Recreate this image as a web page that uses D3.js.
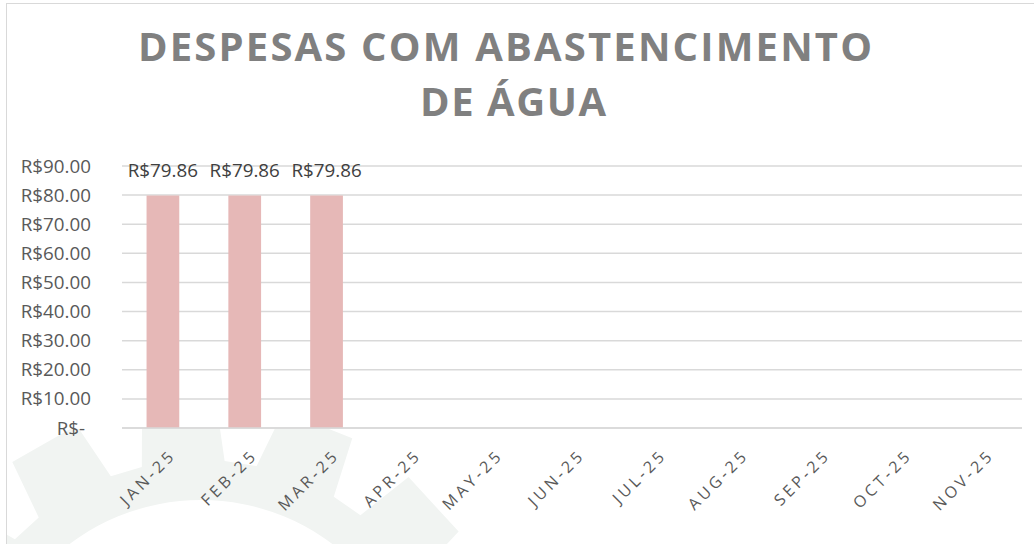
<!DOCTYPE html>
<html>
<head>
<meta charset="utf-8">
<script src="https://cdn.jsdelivr.net/npm/d3@7"></script>
<style>
  body { margin: 0; background: #fff; }
  svg { display: block; font-family: "Open Sans", sans-serif; }
</style>
</head>
<body>
<svg id="chart"></svg>
<script>
var width = 1034;
var height = 544;

// data
var months = ["JAN-25", "FEB-25", "MAR-25", "APR-25", "MAY-25", "JUN-25",
              "JUL-25", "AUG-25", "SEP-25", "OCT-25", "NOV-25"];
var expenses = [79.86, 79.86, 79.86, null, null, null, null, null, null, null, null];
var yTicks = [0, 10, 20, 30, 40, 50, 60, 70, 80, 90];
var titleLines = ["DESPESAS COM ABASTENCIMENTO", "DE ÁGUA"];

var margin = {left: 122, right: 12, top: 166, bottom: 116};

var svg = d3.select('#chart')
    .attr('width', width)
    .attr('height', height);

// faint gear watermark in the background (angles in degrees, 0 = up)
function gearPath(cx, cy, rHole, rRoot, rTip, teeth, offset) {
    var pts = [];
    var step = 360 / teeth;
    function pt(deg, r) {
        var a = (deg - 90) * Math.PI / 180;
        return [cx + r * Math.cos(a), cy + r * Math.sin(a)];
    }
    for (var i = 0; i < teeth; i++) {
        var a = offset + i * step;
        pts.push(pt(a - step * 0.36, rRoot));
        pts.push(pt(a - step * 0.26, rTip));
        pts.push(pt(a + step * 0.26, rTip));
        pts.push(pt(a + step * 0.36, rRoot));
    }
    var d = 'M' + pts.map(p => p.join(',')).join('L') + 'Z';
    d += 'M' + (cx + rHole) + ',' + cy +
         'A' + rHole + ',' + rHole + ' 0 1,0 ' + (cx - rHole) + ',' + cy +
         'A' + rHole + ',' + rHole + ' 0 1,0 ' + (cx + rHole) + ',' + cy + 'Z';
    return d;
}
svg.append('clipPath').attr('id', 'below')
    .append('rect').attr('x', 7).attr('y', 429).attr('width', width).attr('height', 200);
svg.append('path')
    .attr('d', gearPath(201, 718, 218, 258, 318, 14, -4))
    .attr('fill', '#f1f4f2')
    .attr('fill-rule', 'evenodd')
    .attr('clip-path', 'url(#below)');

// chart frame
svg.append('rect')
    .attr('x', 6.5).attr('y', 3.5)
    .attr('width', 1060).attr('height', 600)
    .attr('fill', 'none')
    .attr('stroke', '#d9d9d9');

// title
svg.append('g').selectAll('text')
    .data(titleLines)
    .enter().append('text')
    .attr('x', (d, i) => i === 0 ? 505 : 513)
    .attr('y', (d, i) => 61 + i * 55)
    .attr('text-anchor', 'middle')
    .attr('font-size', 40)
    .attr('font-weight', 'bold')
    .attr('fill', '#808080')
    .attr('textLength', (d, i) => i === 0 ? 734 : 186)
    .attr('lengthAdjust', 'spacing')
    .text(d => d);

var x = d3.scaleBand()
    .domain(months)
    .range([margin.left, width - margin.right])
    .paddingInner(0.6)
    .paddingOuter(0.3);

var y = d3.scaleLinear()
    .domain([0, 90])
    .range([height - margin.bottom, margin.top]);

// gridlines
svg.append('g').selectAll('line')
    .data(yTicks)
    .enter().append('line')
    .attr('x1', margin.left).attr('x2', width - margin.right)
    .attr('y1', d => y(d)).attr('y2', d => y(d))
    .attr('stroke', '#d9d9d9')
    .attr('stroke-width', 1.5);

// y axis labels
var fmt = d3.format(',.2f');
svg.append('g').selectAll('text')
    .data(yTicks)
    .enter().append('text')
    .attr('x', d => d === 0 ? 85 : 91)
    .attr('y', d => y(d) + 6.5)
    .attr('text-anchor', 'end')
    .attr('font-size', 18.8)
    .attr('fill', '#595959')
    .text(d => d === 0 ? 'R$-' : 'R$' + fmt(d));

// bars
var barData = months.map((m, i) => ({month: m, value: expenses[i]})).filter(d => d.value != null);
svg.append('g').selectAll('rect')
    .data(barData)
    .enter().append('rect')
    .attr('x', d => x(d.month))
    .attr('y', d => y(d.value))
    .attr('width', x.bandwidth())
    .attr('height', d => y(0) - y(d.value))
    .attr('fill', '#e6b8b7');

// redraw the baseline over the bars
svg.append('line')
    .attr('x1', margin.left).attr('x2', width - margin.right)
    .attr('y1', y(0)).attr('y2', y(0))
    .attr('stroke', '#d9d9d9')
    .attr('stroke-width', 1.5);

// data labels
svg.append('g').selectAll('text')
    .data(barData)
    .enter().append('text')
    .attr('x', d => x(d.month) + x.bandwidth() / 2)
    .attr('y', 177)
    .attr('text-anchor', 'middle')
    .attr('font-size', 18.8)
    .attr('fill', '#404040')
    .text(d => 'R$' + fmt(d.value));

// x axis labels
svg.append('g').selectAll('text')
    .data(months)
    .enter().append('text')
    .attr('transform', d => `translate(${x(d) + x.bandwidth() / 2 + 14}, 456) rotate(-45)`)
    .attr('text-anchor', 'end')
    .attr('font-size', 16)
    .attr('letter-spacing', 3.5)
    .attr('fill', '#595959')
    .text(d => d);
</script>
</body>
</html>
